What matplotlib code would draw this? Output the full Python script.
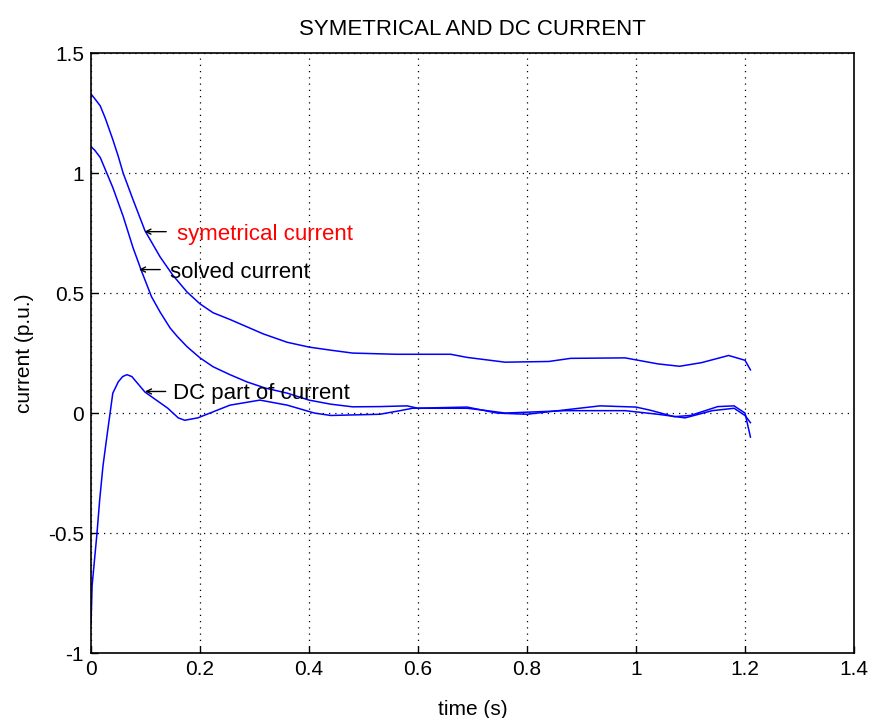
import matplotlib
matplotlib.use("Agg")
import matplotlib.pyplot as plt

# ---- data ----
t_sym = [0, 0.007, 0.017, 0.026, 0.04, 0.05, 0.059, 0.077, 0.099, 0.127, 0.15,
         0.176, 0.2, 0.224, 0.255, 0.316, 0.36, 0.40, 0.44, 0.48, 0.56, 0.66,
         0.69, 0.76, 0.84, 0.88, 0.98, 1.04, 1.08, 1.12, 1.17, 1.20, 1.21]
sym = [1.33, 1.31, 1.28, 1.23, 1.14, 1.07, 1.0, 0.89, 0.76, 0.65, 0.575,
       0.505, 0.455, 0.418, 0.39, 0.33, 0.295, 0.275, 0.262, 0.25, 0.245, 0.245,
       0.232, 0.212, 0.215, 0.228, 0.23, 0.205, 0.195, 0.21, 0.24, 0.22, 0.18]

t_sol = [0, 0.007, 0.017, 0.04, 0.059, 0.077, 0.093, 0.111, 0.127, 0.145, 0.158,
         0.176, 0.2, 0.224, 0.255, 0.286, 0.32, 0.36, 0.40, 0.44, 0.48, 0.53,
         0.58, 0.6, 0.69, 0.72, 0.76, 0.87, 0.98, 1.04, 1.09, 1.14, 1.18, 1.2,
         1.21]
sol = [1.11, 1.095, 1.065, 0.94, 0.82, 0.69, 0.59, 0.485, 0.42, 0.355, 0.32,
       0.277, 0.23, 0.193, 0.16, 0.13, 0.104, 0.083, 0.054, 0.037, 0.026, 0.027,
       0.03, 0.02, 0.02, 0.012, 0.0, 0.01, 0.01, -0.005, -0.02, 0.01, 0.02,
       -0.01, -0.04]

t_dc = [0, 0.002, 0.011, 0.016, 0.022, 0.029, 0.04, 0.05, 0.058, 0.066, 0.075,
        0.099, 0.141, 0.16, 0.172, 0.196, 0.255, 0.31, 0.36, 0.41, 0.44, 0.53,
        0.567, 0.59, 0.69, 0.745, 0.80, 0.934, 1.0, 1.026, 1.07, 1.1, 1.15,
        1.18, 1.2, 1.21]
dc = [-0.88, -0.72, -0.5, -0.36, -0.22, -0.10, 0.083, 0.13, 0.152, 0.16, 0.152,
      0.0875, 0.02, -0.02, -0.03, -0.02, 0.033, 0.054, 0.033, 0.0, -0.01,
      -0.005, 0.01, 0.02, 0.025, 0.0, -0.005, 0.03, 0.025, 0.012, -0.015, -0.01,
      0.027, 0.03, 0.0, -0.1]

x_ticks = [0, 0.2, 0.4, 0.6, 0.8, 1, 1.2, 1.4]
x_ticklabels = ["0", "0.2", "0.4", "0.6", "0.8", "1", "1.2", "1.4"]
y_ticks = [-1, -0.5, 0, 0.5, 1, 1.5]
y_ticklabels = ["-1", "-0.5", "0", "0.5", "1", "1.5"]

FONT = ["Liberation Sans", "DejaVu Sans"]
plt.rcParams['font.family'] = FONT
FS = 15

fig = plt.figure(figsize=(8.7, 7.18), dpi=100)
ax = fig.add_axes([0.1046, 0.0905, 0.8770, 0.8355])

for tx, ty in [(t_sym, sym), (t_sol, sol), (t_dc, dc)]:
    ax.plot(tx, ty, color=(0, 0, 1), lw=1.1)

ax.set_xlim(0, 1.4)
ax.set_ylim(-1, 1.5)
ax.set_xticks(x_ticks)
ax.set_xticklabels(x_ticklabels)
ax.set_yticks(y_ticks)
ax.set_yticklabels(y_ticklabels)
ax.tick_params(direction='in', length=5, width=1, labelsize=FS, pad=5)
ax.grid(True, color='black', linestyle=(0, (1, 4)), linewidth=0.9)
for s in ax.spines.values():
    s.set_linewidth(1.2)

ax.set_title("SYMETRICAL AND DC CURRENT", fontsize=16, pad=13)
ax.set_xlabel("time (s)", fontsize=FS, labelpad=15)
ax.set_ylabel("current (p.u.)", fontsize=FS, labelpad=10)

# annotations: arrow (tip, tail) and label start
arrow_kw = dict(arrowstyle='->', lw=1.0, color='black', mutation_scale=9,
                shrinkA=0, shrinkB=0)
ax.annotate("", xy=(0.098, 0.756), xytext=(0.138, 0.756), arrowprops=arrow_kw)
ax.text(0.157, 0.756, "symetrical current", color='red', fontsize=16,
        va='center_baseline', ha='left')
ax.annotate("", xy=(0.088, 0.598), xytext=(0.127, 0.598), arrowprops=arrow_kw)
ax.text(0.145, 0.598, "solved current", color='black', fontsize=16,
        va='center_baseline', ha='left')
ax.annotate("", xy=(0.099, 0.09), xytext=(0.137, 0.09), arrowprops=arrow_kw)
ax.text(0.151, 0.09, "DC part of current", color='black', fontsize=16,
        va='center_baseline', ha='left')

fig.savefig("out.png", dpi=100)
